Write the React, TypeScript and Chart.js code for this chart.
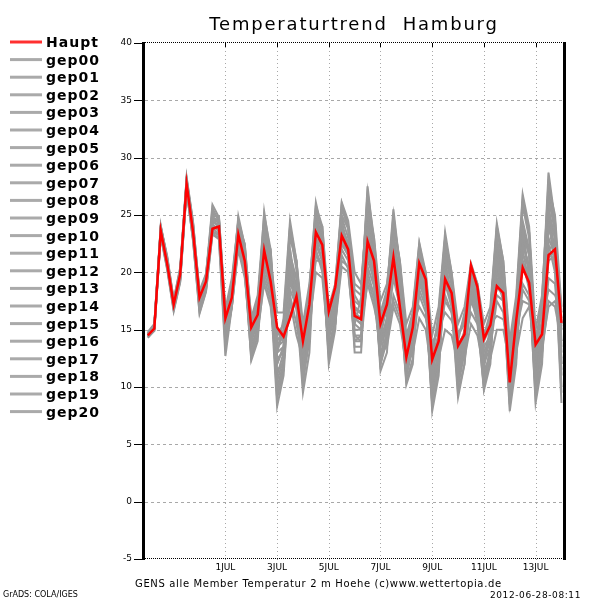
import React, { useEffect, useRef } from "react";
import { Chart, registerables } from "chart.js";

Chart.register(...registerables);

const TITLE = "Temperaturtrend  Hamburg";
const FOOTER = "GENS alle Member Temperatur 2 m Hoehe (c)www.wettertopia.de";
const CREDIT = "GrADS: COLA/IGES";
const STAMP = "2012-06-28-08:11";

// time axis: days relative to 1 JUL 00Z, 6-hourly steps starting 28 JUN 00Z
const START_DAY = -3;
const STEP_DAYS = 0.25;
const X_MIN = -3.11;
const X_MAX = 13.06;
const X_TICK_VALUES = [0, 2, 4, 6, 8, 10, 12];
const X_TICK_LABELS = ["1JUL", "3JUL", "5JUL", "7JUL", "9JUL", "11JUL", "13JUL"];
const Y_MIN = -5;
const Y_MAX = 40;
const Y_STEP = 5;

const HAUPT = [14.5, 15.1, 23.6, 20.7, 17.2, 19.8, 27.7, 23.5, 17.8, 19.2, 23.8, 24.0, 16.0, 17.8, 23.3, 21.0, 15.2, 16.3, 21.9, 19.2, 15.2, 14.4, 16.0, 17.9, 14.0, 17.2, 23.5, 22.4, 16.6, 18.7, 23.2, 22.0, 16.2, 15.9, 22.7, 21.0, 15.5, 17.2, 21.3, 17.0, 12.6, 15.2, 20.8, 19.4, 12.4, 14.0, 19.4, 18.2, 13.6, 14.6, 20.6, 18.7, 14.2, 15.4, 18.8, 18.2, 10.4, 15.8, 20.4, 19.1, 13.7, 14.6, 21.5, 22.0, 15.6];

const GEP00 = [14.6, 15.2, 23.8, 20.9, 17.0, 19.6, 27.9, 23.8, 17.5, 19.0, 24.3, 24.2, 16.2, 18.0, 23.5, 21.2, 15.4, 16.5, 22.3, 19.5, 14.8, 14.0, 17.0, 17.5, 14.5, 17.5, 23.8, 22.6, 16.5, 18.3, 23.4, 22.2, 16.8, 16.4, 22.0, 20.5, 15.0, 17.0, 21.8, 18.0, 12.5, 14.8, 20.3, 19.0, 12.8, 14.5, 19.8, 18.5, 13.2, 14.3, 20.0, 18.0, 14.0, 15.2, 19.0, 18.1, 11.0, 15.5, 20.8, 19.6, 13.5, 14.8, 21.0, 21.5, 15.3];
const GEP01 = [14.4, 15.0, 23.4, 20.5, 17.3, 20.0, 28.1, 24.0, 17.2, 18.8, 25.0, 23.6, 15.5, 18.5, 24.9, 22.3, 13.8, 16.8, 25.3, 21.5, 12.0, 13.5, 23.5, 20.2, 13.0, 18.5, 26.1, 23.5, 14.2, 18.0, 25.0, 23.8, 15.5, 17.8, 27.5, 22.5, 14.0, 18.5, 25.0, 20.5, 12.0, 15.5, 22.0, 19.5, 10.5, 15.0, 23.0, 19.0, 11.0, 14.0, 19.5, 17.0, 11.5, 15.5, 23.0, 20.0, 12.5, 17.0, 25.8, 23.0, 13.0, 17.5, 28.7, 24.5, 14.0];
const GEP02 = [14.7, 15.3, 23.9, 21.2, 17.5, 19.9, 27.4, 23.2, 18.2, 19.5, 24.6, 24.5, 14.0, 17.0, 22.4, 20.0, 12.8, 15.0, 20.0, 18.0, 8.3, 11.0, 19.5, 16.8, 11.0, 14.5, 21.8, 20.5, 13.0, 15.5, 21.5, 20.3, 14.0, 14.5, 20.5, 18.8, 13.0, 14.0, 18.0, 16.5, 14.5, 15.5, 17.0, 16.0, 13.8, 15.0, 16.5, 15.8, 14.5, 15.8, 17.5, 16.5, 14.8, 15.5, 16.2, 15.9, 13.5, 15.0, 17.5, 17.2, 14.5, 15.5, 18.5, 18.0, 16.5];
const GEP03 = [14.5, 15.1, 23.2, 20.3, 16.8, 19.4, 27.6, 23.0, 16.9, 18.6, 23.6, 23.2, 15.0, 17.5, 23.0, 20.8, 14.5, 15.5, 21.0, 19.0, 10.5, 12.5, 20.5, 18.5, 10.0, 15.5, 24.5, 23.0, 14.0, 17.5, 25.5, 24.0, 18.0, 17.0, 21.0, 19.5, 12.0, 15.0, 23.5, 19.5, 11.0, 13.5, 19.0, 17.5, 8.5, 12.0, 21.5, 19.0, 10.5, 13.5, 18.0, 16.8, 10.0, 13.0, 21.0, 18.5, 9.0, 14.0, 22.5, 20.5, 10.5, 14.5, 24.0, 22.0, 11.0];
const GEP04 = [14.6, 15.4, 24.1, 21.0, 17.4, 20.2, 28.3, 24.4, 18.0, 19.8, 25.9, 24.8, 16.8, 19.5, 24.5, 22.0, 16.0, 17.5, 24.0, 21.0, 16.5, 16.5, 24.5, 21.0, 15.5, 19.0, 25.0, 24.0, 17.0, 19.0, 26.1, 24.5, 20.0, 19.0, 26.0, 23.0, 17.5, 19.0, 24.0, 21.0, 15.5, 17.0, 22.6, 20.0, 14.5, 17.0, 23.5, 20.0, 15.5, 17.0, 20.8, 19.0, 15.5, 17.0, 24.3, 21.0, 14.0, 18.0, 26.8, 24.0, 15.0, 18.0, 27.5, 25.0, 17.0];
const GEP05 = [14.4, 14.9, 23.5, 20.6, 17.1, 19.5, 27.2, 22.8, 16.5, 18.4, 23.4, 23.0, 12.7, 17.0, 23.8, 21.0, 12.3, 14.0, 23.0, 19.0, 9.0, 11.5, 22.0, 17.0, 9.5, 13.0, 24.0, 21.5, 12.0, 15.0, 24.5, 22.0, 13.0, 13.0, 24.0, 20.0, 11.4, 13.0, 22.5, 18.0, 10.2, 12.0, 21.0, 17.5, 7.9, 11.0, 20.5, 17.0, 9.1, 12.0, 19.0, 16.0, 9.7, 12.0, 22.0, 18.0, 7.9, 12.0, 24.0, 19.5, 8.6, 12.0, 26.0, 21.0, 8.6];
const GEP06 = [14.8, 15.5, 24.0, 21.4, 17.6, 20.3, 27.8, 23.9, 18.4, 19.9, 24.9, 24.9, 16.5, 18.8, 24.2, 21.8, 15.8, 17.0, 21.5, 20.0, 13.5, 14.5, 21.0, 19.5, 14.0, 16.5, 22.5, 21.0, 15.5, 17.0, 22.0, 21.0, 16.0, 15.5, 19.0, 17.0, 14.5, 15.5, 17.5, 16.0, 13.5, 14.5, 18.5, 17.0, 12.5, 14.0, 17.5, 16.5, 13.0, 14.0, 16.5, 15.5, 13.5, 14.5, 18.0, 17.5, 12.5, 14.0, 18.5, 17.5, 13.0, 13.5, 17.0, 17.5, 15.0];
const GEP07 = [14.5, 15.2, 23.7, 20.8, 17.0, 19.7, 27.5, 23.6, 17.6, 19.1, 24.0, 23.9, 15.8, 17.8, 23.2, 21.0, 15.0, 16.2, 22.0, 19.2, 15.0, 14.2, 16.0, 17.9, 14.0, 17.0, 23.0, 22.0, 16.4, 18.5, 23.0, 22.0, 16.0, 16.0, 23.0, 21.0, 15.5, 17.5, 21.5, 17.5, 12.8, 15.5, 21.0, 19.5, 12.0, 14.0, 19.0, 18.0, 13.5, 14.8, 20.5, 18.5, 14.5, 15.5, 19.5, 18.5, 10.8, 15.8, 21.0, 19.5, 13.5, 15.0, 22.0, 22.5, 16.0];
const GEP08 = [14.3, 15.0, 23.3, 20.4, 16.7, 19.2, 27.3, 23.1, 17.0, 18.5, 23.8, 23.4, 14.5, 17.2, 22.8, 20.5, 13.5, 15.0, 19.0, 17.0, 11.5, 12.0, 18.0, 15.5, 12.0, 16.0, 22.0, 20.0, 14.5, 16.5, 22.5, 21.5, 15.0, 15.0, 22.5, 19.5, 13.5, 16.0, 20.0, 17.0, 11.5, 14.0, 20.0, 18.5, 10.0, 13.0, 22.0, 19.5, 12.0, 13.5, 19.5, 17.5, 12.5, 14.0, 20.0, 18.5, 10.0, 14.5, 23.5, 21.5, 11.0, 14.0, 25.0, 23.0, 12.0];
const GEP09 = [14.7, 15.3, 23.9, 21.1, 17.3, 20.1, 28.0, 24.2, 18.1, 19.6, 25.4, 24.6, 16.0, 18.5, 24.0, 22.5, 15.2, 17.5, 23.5, 22.0, 14.0, 15.0, 23.0, 21.0, 13.5, 17.5, 25.0, 23.0, 15.0, 17.5, 24.0, 22.5, 17.0, 16.5, 25.5, 22.0, 15.0, 17.5, 23.0, 19.5, 13.0, 16.0, 21.5, 19.0, 11.0, 14.5, 22.5, 19.5, 12.5, 15.0, 20.0, 18.0, 12.0, 15.0, 22.5, 19.5, 11.5, 16.0, 24.5, 22.0, 12.0, 16.0, 26.5, 23.5, 13.5];
const GEP10 = [14.5, 15.1, 23.6, 20.7, 17.2, 19.9, 27.9, 23.7, 17.4, 19.0, 24.4, 24.1, 15.9, 17.9, 23.4, 21.1, 15.3, 16.3, 22.0, 19.3, 15.2, 14.5, 16.2, 18.0, 14.2, 17.3, 23.5, 22.3, 16.6, 18.6, 23.3, 22.1, 16.3, 15.8, 22.8, 21.0, 15.4, 17.3, 21.4, 17.2, 12.7, 15.0, 20.6, 19.3, 12.5, 14.2, 19.5, 18.3, 13.7, 14.7, 20.5, 18.6, 14.2, 15.3, 18.7, 18.0, 10.6, 15.7, 20.5, 19.0, 13.8, 14.5, 21.3, 21.8, 15.5];
const GEP11 = [14.6, 15.3, 23.4, 20.5, 16.9, 19.3, 27.1, 22.9, 16.8, 18.7, 23.5, 23.3, 14.5, 17.0, 22.0, 19.5, 14.0, 14.5, 19.5, 17.5, 12.5, 13.0, 17.5, 14.5, 12.5, 15.5, 20.0, 19.5, 13.5, 15.5, 20.5, 20.0, 14.5, 14.0, 19.5, 17.5, 13.0, 13.5, 17.0, 15.5, 12.0, 13.0, 16.0, 15.0, 11.0, 12.5, 15.0, 14.5, 12.0, 12.5, 15.5, 14.5, 11.5, 12.5, 15.0, 15.0, 12.0, 13.0, 16.0, 17.0, 12.5, 13.0, 17.5, 17.0, 14.0];
const GEP12 = [14.4, 15.0, 24.0, 21.3, 17.6, 20.4, 28.2, 24.3, 18.3, 19.7, 25.2, 24.7, 16.5, 19.0, 24.6, 22.4, 16.0, 18.0, 25.0, 22.0, 13.0, 16.0, 24.0, 20.5, 15.0, 18.5, 25.8, 24.0, 16.0, 19.0, 25.8, 24.0, 19.0, 18.5, 26.5, 22.5, 16.5, 18.5, 25.5, 20.5, 14.0, 16.5, 22.0, 20.0, 13.0, 16.0, 23.0, 20.0, 14.0, 16.5, 20.5, 19.0, 14.5, 16.5, 23.8, 20.5, 13.0, 17.5, 26.5, 23.5, 14.0, 17.5, 28.0, 24.5, 15.5];
const GEP13 = [14.6, 15.2, 23.5, 20.6, 17.1, 19.6, 27.6, 23.4, 17.3, 18.9, 24.1, 23.8, 15.5, 18.0, 23.0, 21.0, 14.0, 16.0, 23.5, 20.5, 11.0, 13.0, 22.0, 18.5, 11.5, 16.0, 24.5, 22.0, 14.5, 17.0, 24.0, 22.5, 15.5, 15.0, 24.5, 21.0, 12.5, 16.0, 22.0, 18.5, 11.0, 14.5, 21.5, 18.5, 9.0, 13.5, 21.0, 18.0, 10.0, 13.0, 18.5, 16.5, 10.5, 13.5, 21.5, 19.0, 8.5, 13.5, 23.0, 20.0, 9.5, 13.5, 25.0, 22.0, 10.0];
const GEP14 = [14.5, 15.4, 23.8, 20.9, 17.4, 20.0, 28.0, 23.9, 17.9, 19.4, 24.7, 24.3, 16.0, 18.2, 23.8, 21.5, 14.8, 16.5, 21.5, 20.5, 14.5, 15.5, 19.0, 18.0, 15.0, 17.0, 21.0, 21.0, 15.0, 16.5, 22.5, 21.5, 17.5, 17.0, 21.5, 20.5, 16.0, 16.5, 20.5, 18.5, 14.0, 15.5, 19.0, 18.5, 13.5, 15.5, 20.0, 18.5, 14.5, 15.5, 19.0, 18.0, 14.5, 16.0, 20.5, 19.5, 13.5, 16.0, 21.5, 20.5, 13.0, 15.5, 23.0, 21.5, 15.0];
const GEP15 = [14.3, 14.9, 23.1, 20.2, 16.6, 19.1, 27.2, 22.7, 16.4, 18.3, 23.3, 22.9, 13.5, 17.0, 22.5, 20.0, 12.5, 14.5, 22.0, 18.5, 9.5, 12.0, 21.0, 17.5, 10.5, 14.0, 23.0, 21.0, 12.5, 15.5, 23.5, 21.5, 13.5, 13.5, 23.5, 20.0, 12.0, 14.0, 21.5, 17.5, 10.5, 12.5, 20.0, 17.0, 8.5, 11.5, 20.0, 17.5, 9.5, 12.0, 18.0, 15.5, 10.0, 12.5, 20.5, 17.5, 8.5, 12.5, 22.0, 19.0, 9.0, 12.5, 24.5, 20.5, 9.5];
const GEP16 = [14.7, 15.3, 23.7, 21.0, 17.5, 20.0, 27.7, 23.6, 18.0, 19.5, 25.6, 24.4, 16.0, 18.5, 24.5, 22.0, 14.5, 17.5, 24.5, 21.5, 13.0, 15.0, 24.0, 21.0, 14.5, 18.0, 25.5, 23.5, 15.5, 18.0, 26.0, 24.0, 18.5, 18.0, 27.0, 23.0, 16.0, 18.0, 24.5, 21.0, 14.5, 16.5, 22.5, 19.5, 12.5, 16.5, 23.0, 19.5, 14.5, 16.0, 20.0, 18.5, 14.0, 16.5, 24.0, 21.0, 13.0, 17.0, 26.0, 23.5, 13.5, 17.0, 27.0, 24.0, 16.5];
const GEP17 = [14.5, 15.0, 23.5, 20.4, 17.0, 19.4, 27.4, 23.3, 17.1, 18.8, 23.9, 23.7, 15.0, 17.5, 22.5, 20.5, 14.0, 15.5, 20.5, 18.5, 12.0, 13.5, 20.0, 18.0, 13.0, 16.0, 21.5, 20.5, 14.5, 16.0, 21.0, 20.5, 14.5, 14.5, 20.0, 18.0, 14.0, 15.0, 19.5, 17.0, 11.5, 13.5, 18.0, 16.5, 10.5, 13.0, 18.0, 16.5, 11.5, 13.0, 17.5, 16.0, 12.0, 13.5, 17.5, 16.5, 10.5, 13.5, 19.0, 18.0, 11.0, 13.0, 19.5, 19.0, 12.5];
const GEP18 = [14.6, 15.2, 23.9, 21.2, 17.3, 19.8, 28.1, 24.1, 17.7, 19.2, 24.5, 24.0, 16.3, 18.3, 23.6, 21.4, 15.0, 16.8, 22.8, 20.2, 13.5, 14.0, 21.5, 19.5, 13.5, 17.0, 24.5, 22.8, 15.5, 17.5, 24.8, 23.0, 16.5, 16.0, 25.0, 21.5, 14.5, 17.0, 22.5, 19.0, 13.5, 15.5, 21.0, 18.5, 11.5, 14.0, 21.5, 19.0, 12.0, 14.0, 19.0, 17.5, 13.0, 14.5, 22.0, 19.0, 11.5, 15.0, 24.0, 21.5, 12.0, 15.5, 25.5, 23.0, 13.0];
const GEP19 = [14.4, 15.1, 23.3, 20.6, 16.9, 19.5, 27.5, 23.2, 17.4, 19.3, 24.2, 23.6, 14.8, 17.4, 22.8, 20.6, 13.0, 15.5, 23.0, 20.0, 10.0, 12.0, 20.0, 17.0, 11.0, 15.0, 22.5, 21.0, 13.5, 16.0, 23.0, 21.5, 14.0, 14.0, 22.0, 19.0, 12.0, 14.5, 20.5, 17.0, 11.0, 13.5, 19.5, 17.5, 9.5, 12.5, 19.0, 17.0, 11.0, 13.0, 18.5, 16.5, 11.0, 13.0, 19.5, 17.5, 9.5, 13.0, 21.0, 18.5, 10.0, 13.5, 22.5, 20.0, 11.5];
const GEP20 = [14.6, 15.3, 23.6, 20.8, 17.2, 19.9, 27.8, 23.7, 17.6, 19.0, 24.8, 24.5, 15.5, 18.0, 23.5, 21.5, 14.5, 16.0, 21.0, 19.5, 13.0, 13.5, 18.5, 17.0, 13.5, 17.0, 23.0, 22.0, 15.0, 17.0, 23.5, 22.5, 16.0, 15.5, 21.5, 20.0, 14.0, 16.0, 23.0, 19.0, 12.5, 14.5, 19.5, 18.0, 11.5, 13.5, 20.5, 18.0, 12.5, 14.0, 19.0, 17.0, 12.5, 14.0, 21.0, 18.5, 11.0, 14.5, 22.5, 20.5, 11.5, 14.5, 24.0, 22.0, 12.0];

const MEMBER_NAMES = ["gep00", "gep01", "gep02", "gep03", "gep04", "gep05", "gep06", "gep07", "gep08", "gep09", "gep10", "gep11", "gep12", "gep13", "gep14", "gep15", "gep16", "gep17", "gep18", "gep19", "gep20"];
const MEMBERS = [GEP00, GEP01, GEP02, GEP03, GEP04, GEP05, GEP06, GEP07, GEP08, GEP09, GEP10, GEP11, GEP12, GEP13, GEP14, GEP15, GEP16, GEP17, GEP18, GEP19, GEP20];

const RED = "#ff0000";
const GRAY = "#999999";
const LEGEND_RED = "#ff3030";
const LEGEND_GRAY = "#aaaaaa";
const FONT = "'DejaVu Sans', sans-serif";

const toPoints = (vals: number[]) => vals.map((v, i) => ({ x: START_DAY + i * STEP_DAYS, y: v }));

const decorPlugin = {
  id: "decor",
  beforeDatasetsDraw(chart: any) {
    const { ctx, chartArea: a, scales } = chart;
    const xs = scales.x;
    const ys = scales.y;
    ctx.save();
    ctx.lineWidth = 1;
    ctx.strokeStyle = "#a8a8a8";
    ctx.setLineDash([1, 3]);
    for (const v of X_TICK_VALUES) {
      const px = Math.round(xs.getPixelForValue(v)) + 0.5;
      ctx.beginPath();
      ctx.moveTo(px, a.top);
      ctx.lineTo(px, a.bottom + 2);
      ctx.stroke();
    }
    ctx.setLineDash([3, 3]);
    for (let v = Y_MIN + Y_STEP; v < Y_MAX; v += Y_STEP) {
      const py = Math.round(ys.getPixelForValue(v)) + 0.5;
      ctx.beginPath();
      ctx.moveTo(a.left, py);
      ctx.lineTo(a.right, py);
      ctx.stroke();
    }
    ctx.restore();
  },
  afterDatasetsDraw(chart: any) {
    const { ctx, chartArea: a, scales } = chart;
    const xs = scales.x;
    const ys = scales.y;
    ctx.save();
    ctx.fillStyle = "#000";
    ctx.fillRect(a.left - 3, a.top - 1, 3, a.bottom - a.top + 2);
    ctx.fillRect(a.right, a.top - 1, 3, a.bottom - a.top + 2);
    ctx.strokeStyle = "#000";
    ctx.lineWidth = 1;
    ctx.setLineDash([1, 1]);
    ctx.beginPath();
    ctx.moveTo(a.left, a.top - 0.5);
    ctx.lineTo(a.right, a.top - 0.5);
    ctx.moveTo(a.left, a.bottom - 0.5);
    ctx.lineTo(a.right, a.bottom - 0.5);
    ctx.stroke();
    ctx.setLineDash([]);
    ctx.beginPath();
    for (let v = Y_MIN; v <= Y_MAX; v += Y_STEP) {
      const py = Math.round(ys.getPixelForValue(v)) + 0.5;
      ctx.moveTo(a.left - 11, py);
      ctx.lineTo(a.left - 3, py);
    }
    for (const v of X_TICK_VALUES) {
      const px = Math.round(xs.getPixelForValue(v)) + 0.5;
      ctx.moveTo(px, a.top);
      ctx.lineTo(px, a.top + 4);
    }
    ctx.stroke();
    ctx.restore();
  },
  afterDraw(chart: any) {
    const { ctx, chartArea: a } = chart;
    ctx.save();
    ctx.fillStyle = "#000";
    ctx.textBaseline = "alphabetic";
    ctx.font = `18px ${FONT}`;
    (ctx as any).letterSpacing = "1.8px";
    ctx.textAlign = "center";
    ctx.fillText(TITLE, (a.left + a.right) / 2, 30);
    ctx.textAlign = "left";
    ctx.font = `bold 14px ${FONT}`;
    (ctx as any).letterSpacing = "1px";
    chart.data.datasets.forEach((ds: any, i: number) => {
      const y = 42 + i * 17.6;
      ctx.strokeStyle = ds.legendColor;
      ctx.lineWidth = 3;
      ctx.beginPath();
      ctx.moveTo(10, y);
      ctx.lineTo(42, y);
      ctx.stroke();
      ctx.fillText(ds.label, 46, y + 5);
    });
    ctx.font = `10px ${FONT}`;
    (ctx as any).letterSpacing = "0.65px";
    ctx.fillText(FOOTER, 135, 587);
    (ctx as any).letterSpacing = "0px";
    ctx.font = `8px ${FONT}`;
    ctx.fillText(CREDIT, 3, 597);
    ctx.font = `9px ${FONT}`;
    (ctx as any).letterSpacing = "0.6px";
    ctx.textAlign = "right";
    ctx.fillText(STAMP, 581, 598);
    ctx.restore();
  },
};

export default function App() {
  const ref = useRef<HTMLCanvasElement>(null);
  useEffect(() => {
    if (!ref.current) return;
    Chart.defaults.font.family = FONT;
    Chart.defaults.color = "#000";
    const datasets: any[] = [
      {
        label: "Haupt",
        data: toPoints(HAUPT),
        borderColor: RED,
        backgroundColor: RED,
        borderWidth: 2.5,
        pointRadius: 0,
        tension: 0,
        order: 0,
        legendColor: LEGEND_RED,
      },
      ...MEMBERS.map((vals, i) => ({
        label: MEMBER_NAMES[i],
        data: toPoints(vals),
        borderColor: GRAY,
        backgroundColor: GRAY,
        borderWidth: 2,
        pointRadius: 0,
        tension: 0,
        order: 1,
        legendColor: LEGEND_GRAY,
      })),
    ];
    const chart = new Chart(ref.current, {
      type: "line",
      data: { datasets },
      options: {
        responsive: false,
        animation: false,
        devicePixelRatio: 1,
        layout: { padding: { left: 0, right: 37, top: 43, bottom: 0 } },
        plugins: {
          legend: { display: false },
          title: { display: false },
          tooltip: { enabled: false },
        },
        scales: {
          x: {
            type: "linear",
            min: X_MIN,
            max: X_MAX,
            grid: { display: false, drawTicks: false },
            border: { display: false },
            afterBuildTicks: (s: any) => {
              s.ticks = X_TICK_VALUES.map((v) => ({ value: v }));
            },
            afterFit: (s: any) => {
              s.height = 41;
              s.paddingLeft = 0;
              s.paddingRight = 0;
            },
            ticks: {
              autoSkip: false,
              maxRotation: 0,
              padding: 3,
              font: { size: 9, family: FONT },
              color: "#000",
              callback: (v: any) => {
                const k = X_TICK_VALUES.indexOf(Number(v));
                return k >= 0 ? X_TICK_LABELS[k] : "";
              },
            },
          },
          y: {
            type: "linear",
            min: Y_MIN,
            max: Y_MAX,
            grid: { display: false, drawTicks: false },
            border: { display: false },
            afterFit: (s: any) => {
              s.width = 145;
              s.paddingTop = 0;
              s.paddingBottom = 0;
            },
            ticks: {
              stepSize: Y_STEP,
              padding: 13,
              font: { size: 9, family: FONT },
              color: "#000",
            },
          },
        },
      },
      plugins: [decorPlugin],
    } as any);
    return () => chart.destroy();
  }, []);
  return (
    <div style={{ position: "absolute", left: 0, top: 0, width: 600, height: 600, background: "#fff" }}>
      <canvas ref={ref} width={600} height={600} style={{ display: "block", width: 600, height: 600 }} />
    </div>
  );
}
